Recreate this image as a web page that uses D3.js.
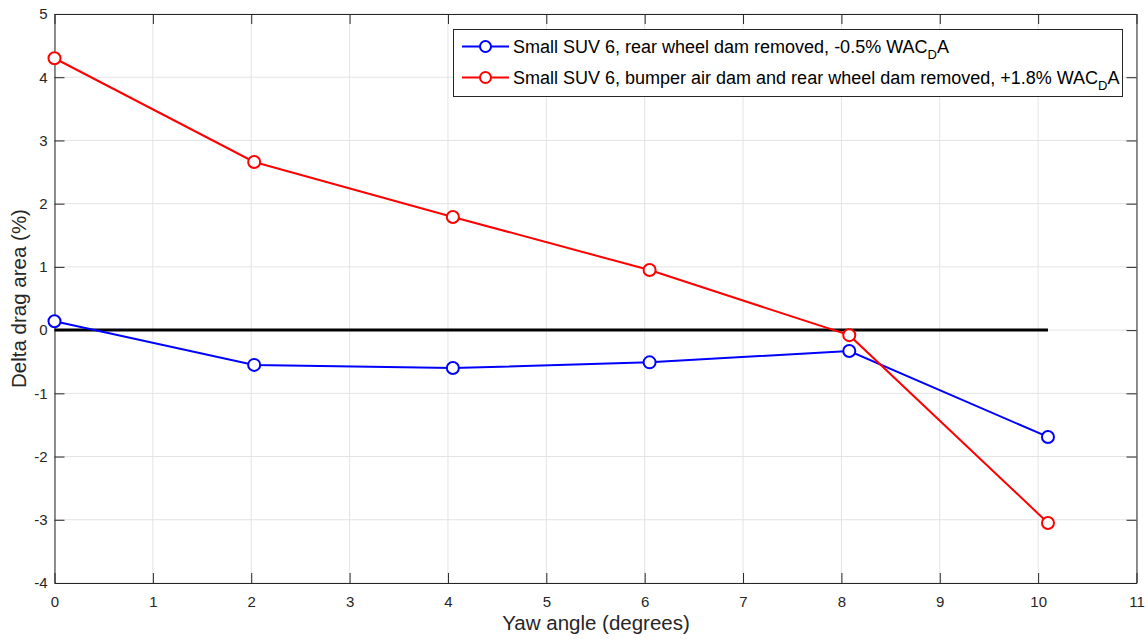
<!DOCTYPE html>
<html>
<head>
<meta charset="utf-8">
<script src="https://cdn.jsdelivr.net/npm/d3@7"></script>
<style>
  html, body { margin: 0; padding: 0; background: #fff; }
  svg { display: block; font-family: "Liberation Sans", Arial, Helvetica, sans-serif; }
</style>
</head>
<body>
<svg id="chart" width="1146" height="639"></svg>
<script>
// Yaw angles (degrees) at which each configuration was measured
const yawRear = [0, 2.03, 4.05, 6.05, 8.08, 10.1];
const yawBoth = [0, 2.03, 4.05, 6.05, 8.08, 10.1];
// Delta drag area (%) for each configuration
const deltaRear = [0.14, -0.55, -0.60, -0.51, -0.33, -1.69];
const deltaBoth = [4.30, 2.66, 1.79, 0.95, -0.08, -3.05];
// Baseline reference line
const baseX = [0, 10.1];
const baseY = [0, 0];
// Tick values
const xTicks = [0, 1, 2, 3, 4, 5, 6, 7, 8, 9, 10, 11];
const yTicks = [-4, -3, -2, -1, 0, 1, 2, 3, 4, 5];

const series = [
  { name: "Small SUV 6, rear wheel dam removed, -0.5% WAC", tail: "A", x: yawRear, y: deltaRear, color: "#0000ff" },
  { name: "Small SUV 6, bumper air dam and rear wheel dam removed, +1.8% WAC", tail: "A", x: yawBoth, y: deltaBoth, color: "#ff0000" }
];

const svg = d3.select("#chart");
const plotL = 54.5, plotR = 1136.5, plotT = 14, plotB = 583;

const x = d3.scaleLinear().domain([0, 11]).range([plotL, plotR]);
const y = d3.scaleLinear().domain([-4, 5]).range([plotB, plotT]);

// grid
const grid = svg.append("g");
grid.selectAll("line.gx").data(xTicks).join("line")
  .attr("x1", d => x(d)).attr("x2", d => x(d))
  .attr("y1", plotT).attr("y2", plotB)
  .attr("stroke", "#e3e3e3").attr("stroke-width", 1);
grid.selectAll("line.gy").data(yTicks).join("line")
  .attr("x1", plotL).attr("x2", plotR)
  .attr("y1", d => y(d)).attr("y2", d => y(d))
  .attr("stroke", "#e3e3e3").attr("stroke-width", 1);

// axes (ticks pointing inward, box on all four sides)
const tickLen = 10;
const axisColor = "#262626";
const fmt = d => String(d);
const xAxis = d3.axisBottom(x).tickValues(xTicks).tickFormat(fmt).tickSizeInner(-tickLen).tickSizeOuter(0).tickPadding(13);
const yAxis = d3.axisLeft(y).tickValues(yTicks).tickFormat(fmt).tickSizeInner(-tickLen).tickSizeOuter(0).tickPadding(7);
const xTop = d3.axisTop(x).tickValues(xTicks).tickFormat("").tickSizeInner(-tickLen).tickSizeOuter(0);
const yRight = d3.axisRight(y).tickValues(yTicks).tickFormat("").tickSizeInner(-tickLen).tickSizeOuter(0);

function styleAxis(g) {
  g.selectAll("path.domain").attr("stroke", axisColor).attr("stroke-width", 1);
  g.selectAll(".tick line").attr("stroke", axisColor).attr("stroke-width", 1);
  g.selectAll(".tick text").attr("fill", axisColor).style("font-size", "15px").style("font-family", "'Liberation Sans', Arial, sans-serif");
}
svg.append("g").attr("transform", `translate(0,${plotB})`).call(xAxis).call(styleAxis);
svg.append("g").attr("transform", `translate(${plotL},0)`).call(yAxis).call(styleAxis);
svg.append("g").attr("transform", `translate(0,${plotT})`).call(xTop).call(styleAxis);
svg.append("g").attr("transform", `translate(${plotR},0)`).call(yRight).call(styleAxis);

// baseline
const line = d3.line().x(d => x(d[0])).y(d => y(d[1]));
svg.append("path")
  .attr("d", line(d3.zip(baseX, baseY)))
  .attr("fill", "none").attr("stroke", "#000").attr("stroke-width", 3);

// series lines and markers
series.forEach(s => {
  const pts = d3.zip(s.x, s.y);
  svg.append("path").attr("d", line(pts))
    .attr("fill", "none").attr("stroke", s.color).attr("stroke-width", 2);
  svg.append("g").selectAll("circle").data(pts).join("circle")
    .attr("cx", d => x(d[0])).attr("cy", d => y(d[1])).attr("r", 6)
    .attr("fill", "#fff").attr("stroke", s.color).attr("stroke-width", 2);
});

// axis titles
svg.append("text").attr("x", (plotL + plotR) / 2 + 0.5).attr("y", 630)
  .attr("text-anchor", "middle").attr("fill", axisColor).style("font-size", "20.5px")
  .text("Yaw angle (degrees)");
svg.append("text").attr("transform", `translate(26,${(plotT + plotB) / 2}) rotate(-90)`)
  .attr("text-anchor", "middle").attr("fill", axisColor).style("font-size", "20.5px")
  .text("Delta drag area (%)");

// legend
const lg = svg.append("g");
lg.append("rect").attr("x", 453.5).attr("y", 29.5).attr("width", 669).attr("height", 67)
  .attr("fill", "#fff").attr("stroke", axisColor).attr("stroke-width", 1);
series.forEach((s, i) => {
  const cy = 46.5 + i * 31;
  lg.append("line").attr("x1", 462).attr("x2", 509).attr("y1", cy).attr("y2", cy)
    .attr("stroke", s.color).attr("stroke-width", 2);
  lg.append("circle").attr("cx", 485.5).attr("cy", cy).attr("r", 5.5)
    .attr("fill", "#fff").attr("stroke", s.color).attr("stroke-width", 2);
  const t = lg.append("text").attr("x", 513).attr("y", cy + 6.5)
    .attr("fill", "#000").style("font-size", "18px");
  t.append("tspan").text(s.name);
  t.append("tspan").attr("dy", 6).style("font-size", "13px").text("D");
  t.append("tspan").attr("dy", -6).text(s.tail);
});
</script>
</body>
</html>
